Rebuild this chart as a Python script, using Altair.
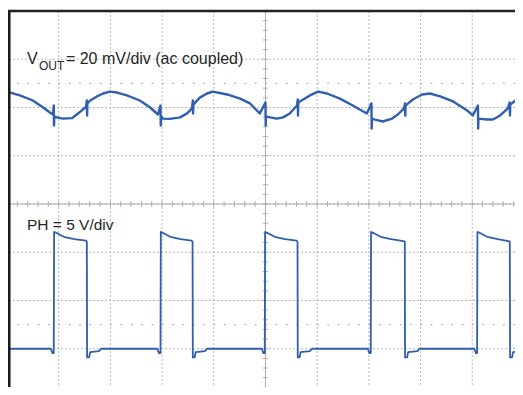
import altair as alt
import pandas as pd

# ---- scope screen: 10 x 8 divisions ----
grid_t = [1, 2, 3, 4, 5, 6, 7, 8, 9]
grid_y = [1, 2, 3, 4, 5, 6, 7]
half_y = [1.5, 6.5]
minor_t = [round(0.2 * k, 1) for k in range(1, 50)]
minor_y = [round(0.2 * k, 1) for k in range(1, 40)]

# ---- channel 1: VOUT, 20 mV/div, ground marker at division 6 ----
vout_t = [0.00, 0.25, 0.50, 0.70, 0.83, 0.89, 0.905, 0.91, 0.915, 0.97, 1.08, 1.26,
          1.35, 1.45, 1.53, 1.545, 1.55, 1.555, 1.61, 1.74, 1.86, 1.99, 2.13, 2.32,
          2.57, 2.77, 2.92, 2.97, 2.975, 2.98, 3.02, 3.15, 3.35, 3.48, 3.58, 3.595,
          3.60, 3.605, 3.73, 3.87, 3.98, 4.26, 4.51, 4.70, 4.89, 5.00, 5.005, 5.01,
          5.09, 5.22, 5.34, 5.47, 5.61, 5.625, 5.63, 5.635, 5.73, 5.86, 6.02, 6.19,
          6.44, 6.69, 6.96, 7.05, 7.055, 7.06, 7.12, 7.27, 7.45, 7.56, 7.68, 7.70,
          7.705, 7.71, 7.85, 8.03, 8.18, 8.38, 8.63, 8.90, 9.01, 9.11, 9.115, 9.12,
          9.28, 9.40, 9.54, 9.69, 9.725, 9.73, 9.735, 9.86, 9.98, 10.02]
vout_mv = [6.6, 5.0, 2.9, 0.0, -2.1, -2.9, 0.8, -7.5, -3.7, -4.1, -4.6, -4.4,
           -2.9, -1.2, 0.4, 2.9, -3.3, 1.7, 2.9, 4.6, 5.8, 6.6, 6.2, 5.0,
           2.9, 0.0, -2.9, 0.8, -7.5, -3.7, -4.6, -4.7, -4.1, -2.5, -0.4, 2.9,
           -2.5, 1.2, 4.1, 5.8, 6.6, 5.4, 3.7, 1.7, -2.5, 2.1, -7.5, -3.7,
           -4.1, -4.6, -4.1, -2.5, 0.8, 3.3, -3.3, 2.1, 3.3, 5.0, 6.6, 5.8,
           3.7, 0.8, -2.5, 1.7, -8.7, -4.6, -5.0, -5.8, -4.6, -2.9, -0.4, 1.7,
           -3.3, 0.8, 3.3, 5.4, 5.8, 4.6, 2.5, -1.2, -3.3, 0.8, -8.7, -4.6,
           -5.0, -5.0, -3.3, -0.4, 2.1, -3.3, 1.2, 3.3, 5.4, 5.8]

# ---- channel 2: PH, 5 V/div, ground marker at division 1 ----
ph_t = [0.00, 0.85, 0.88, 0.905, 0.912, 0.96, 1.10, 1.30, 1.53, 1.545, 1.55, 1.59, 1.61, 1.78, 1.82,
        2.91, 2.94, 2.970, 2.976, 3.02, 3.16, 3.36, 3.57, 3.590, 3.595, 3.63, 3.65, 3.83, 3.87,
        4.93, 4.96, 4.987, 4.993, 5.04, 5.18, 5.38, 5.60, 5.620, 5.625, 5.66, 5.68, 5.86, 5.90,
        6.98, 7.01, 7.037, 7.043, 7.09, 7.23, 7.43, 7.67, 7.695, 7.700, 7.74, 7.76, 7.94, 7.98,
        9.04, 9.07, 9.094, 9.100, 9.15, 9.29, 9.49, 9.70, 9.726, 9.732, 9.77, 9.79, 9.98, 10.02]
ph_v = [0.0, 0.0, -0.45, -0.45, 12.1, 12.0, 11.6, 11.35, 11.2, 11.1, -0.9, -0.9, -0.35, -0.25, 0.0,
        0.0, -0.45, -0.45, 12.1, 12.0, 11.6, 11.35, 11.2, 11.1, -0.9, -0.9, -0.35, -0.25, 0.0,
        0.0, -0.45, -0.45, 12.1, 12.0, 11.6, 11.35, 11.2, 11.1, -0.9, -0.9, -0.35, -0.25, 0.0,
        0.0, -0.45, -0.45, 12.1, 12.0, 11.6, 11.35, 11.15, 11.1, -0.9, -0.9, -0.35, -0.25, 0.0,
        0.0, -0.45, -0.45, 12.1, 12.0, 11.6, 11.35, 11.15, 11.1, -0.9, -0.9, -0.35, -0.25, -0.2]

VOUT_GND, VOUT_SCALE = 6, 20   # division, mV/div
PH_GND, PH_SCALE = 1, 5        # division, V/div

# visible window of the screen (the reference crops the right and bottom edge)
W, H = 507, 376
X_DOMAIN = [0.02, 9.827]
Y_DOMAIN = [0.207, 8]
xs = alt.Scale(domain=X_DOMAIN, nice=False, zero=False)
ys = alt.Scale(domain=Y_DOMAIN, nice=False, zero=False)
GRID = "#b8b8b8"
TRACE = "#2f5fae"
FONT = "Liberation Sans"

vout_df = pd.DataFrame({"t": vout_t, "v": vout_mv, "i": range(len(vout_t))})
ph_df = pd.DataFrame({"t": ph_t, "v": ph_v, "i": range(len(ph_t))})

vgrid = alt.Chart(pd.DataFrame({"t": grid_t})).mark_rule(
    color=GRID, strokeWidth=1, strokeDash=[2, 2]).encode(x=alt.X("t:Q", scale=xs, axis=None))
hgrid = alt.Chart(pd.DataFrame({"y": grid_y})).mark_rule(
    color=GRID, strokeWidth=1, strokeDash=[2, 2]).encode(y=alt.Y("y:Q", scale=ys, axis=None))
halfl = alt.Chart(pd.DataFrame({"y": half_y})).mark_rule(
    color="#a8a8a8", strokeWidth=1.2, strokeDash=[1.5, 8.84]).encode(y=alt.Y("y:Q", scale=ys))

cx = alt.Chart(pd.DataFrame({"t": [5]})).mark_rule(color="#b0b0b0", strokeWidth=1).encode(
    x=alt.X("t:Q", scale=xs))
cy = alt.Chart(pd.DataFrame({"y": [4]})).mark_rule(color="#b0b0b0", strokeWidth=1).encode(
    y=alt.Y("y:Q", scale=ys))
tick_h = alt.Chart(pd.DataFrame({"t": minor_t})).mark_rule(color="#b0b0b0", strokeWidth=1).encode(
    x=alt.X("t:Q", scale=xs), y=alt.datum(3.94, scale=ys), y2=alt.datum(4.06))
tick_v = alt.Chart(pd.DataFrame({"y": minor_y})).mark_rule(color="#b0b0b0", strokeWidth=1).encode(
    y=alt.Y("y:Q", scale=ys), x=alt.datum(4.95, scale=xs), x2=alt.datum(5.05))

vout_line = alt.Chart(vout_df).transform_calculate(
    d=f"{VOUT_GND} + datum.v / {VOUT_SCALE}").mark_line(
    color=TRACE, strokeWidth=2.4, strokeJoin="round", clip=True).encode(
    x=alt.X("t:Q", scale=xs), y=alt.Y("d:Q", scale=ys), order="i:Q")
ph_line = alt.Chart(ph_df).transform_calculate(
    d=f"{PH_GND} + datum.v / {PH_SCALE}").mark_line(
    color=TRACE, strokeWidth=1.8, strokeJoin="round", clip=True).encode(
    x=alt.X("t:Q", scale=xs), y=alt.Y("d:Q", scale=ys), order="i:Q")

left_border = alt.Chart(pd.DataFrame({"t": [0.04]})).mark_rule(color="#1a1a1a", strokeWidth=3).encode(
    x=alt.X("t:Q", scale=xs))
top_border = alt.Chart(pd.DataFrame({"y": [8]})).mark_rule(color="#222222", strokeWidth=2.5).encode(
    y=alt.Y("y:Q", scale=ys))

def label(txt, t, y, size):
    return alt.Chart(pd.DataFrame({"s": [txt]})).mark_text(
        align="left", baseline="alphabetic", font=FONT, fontSize=size, color="#262626").encode(
        x=alt.datum(t, scale=xs), y=alt.datum(y, scale=ys), text="s:N")

labels = [
    label("V", 0.387, 6.90, 16),
    label("OUT", 0.62, 6.78, 12),
    label("= 20 mV/div (ac coupled)", 1.14, 6.90, 16),
    label("PH = 5 V/div", 0.387, 3.46, 15.5),
]

chart = alt.layer(
    vgrid, hgrid, halfl, cx, cy, tick_h, tick_v, vout_line, ph_line, *labels, left_border, top_border
).properties(
    width=W, height=H,
    padding={"left": 0, "top": 3, "right": 0, "bottom": 0},
    autosize=alt.AutoSizeParams(type="none"),
).configure_view(stroke=None)

chart.save("out.html", embed_options={"renderer": "svg", "actions": False})
